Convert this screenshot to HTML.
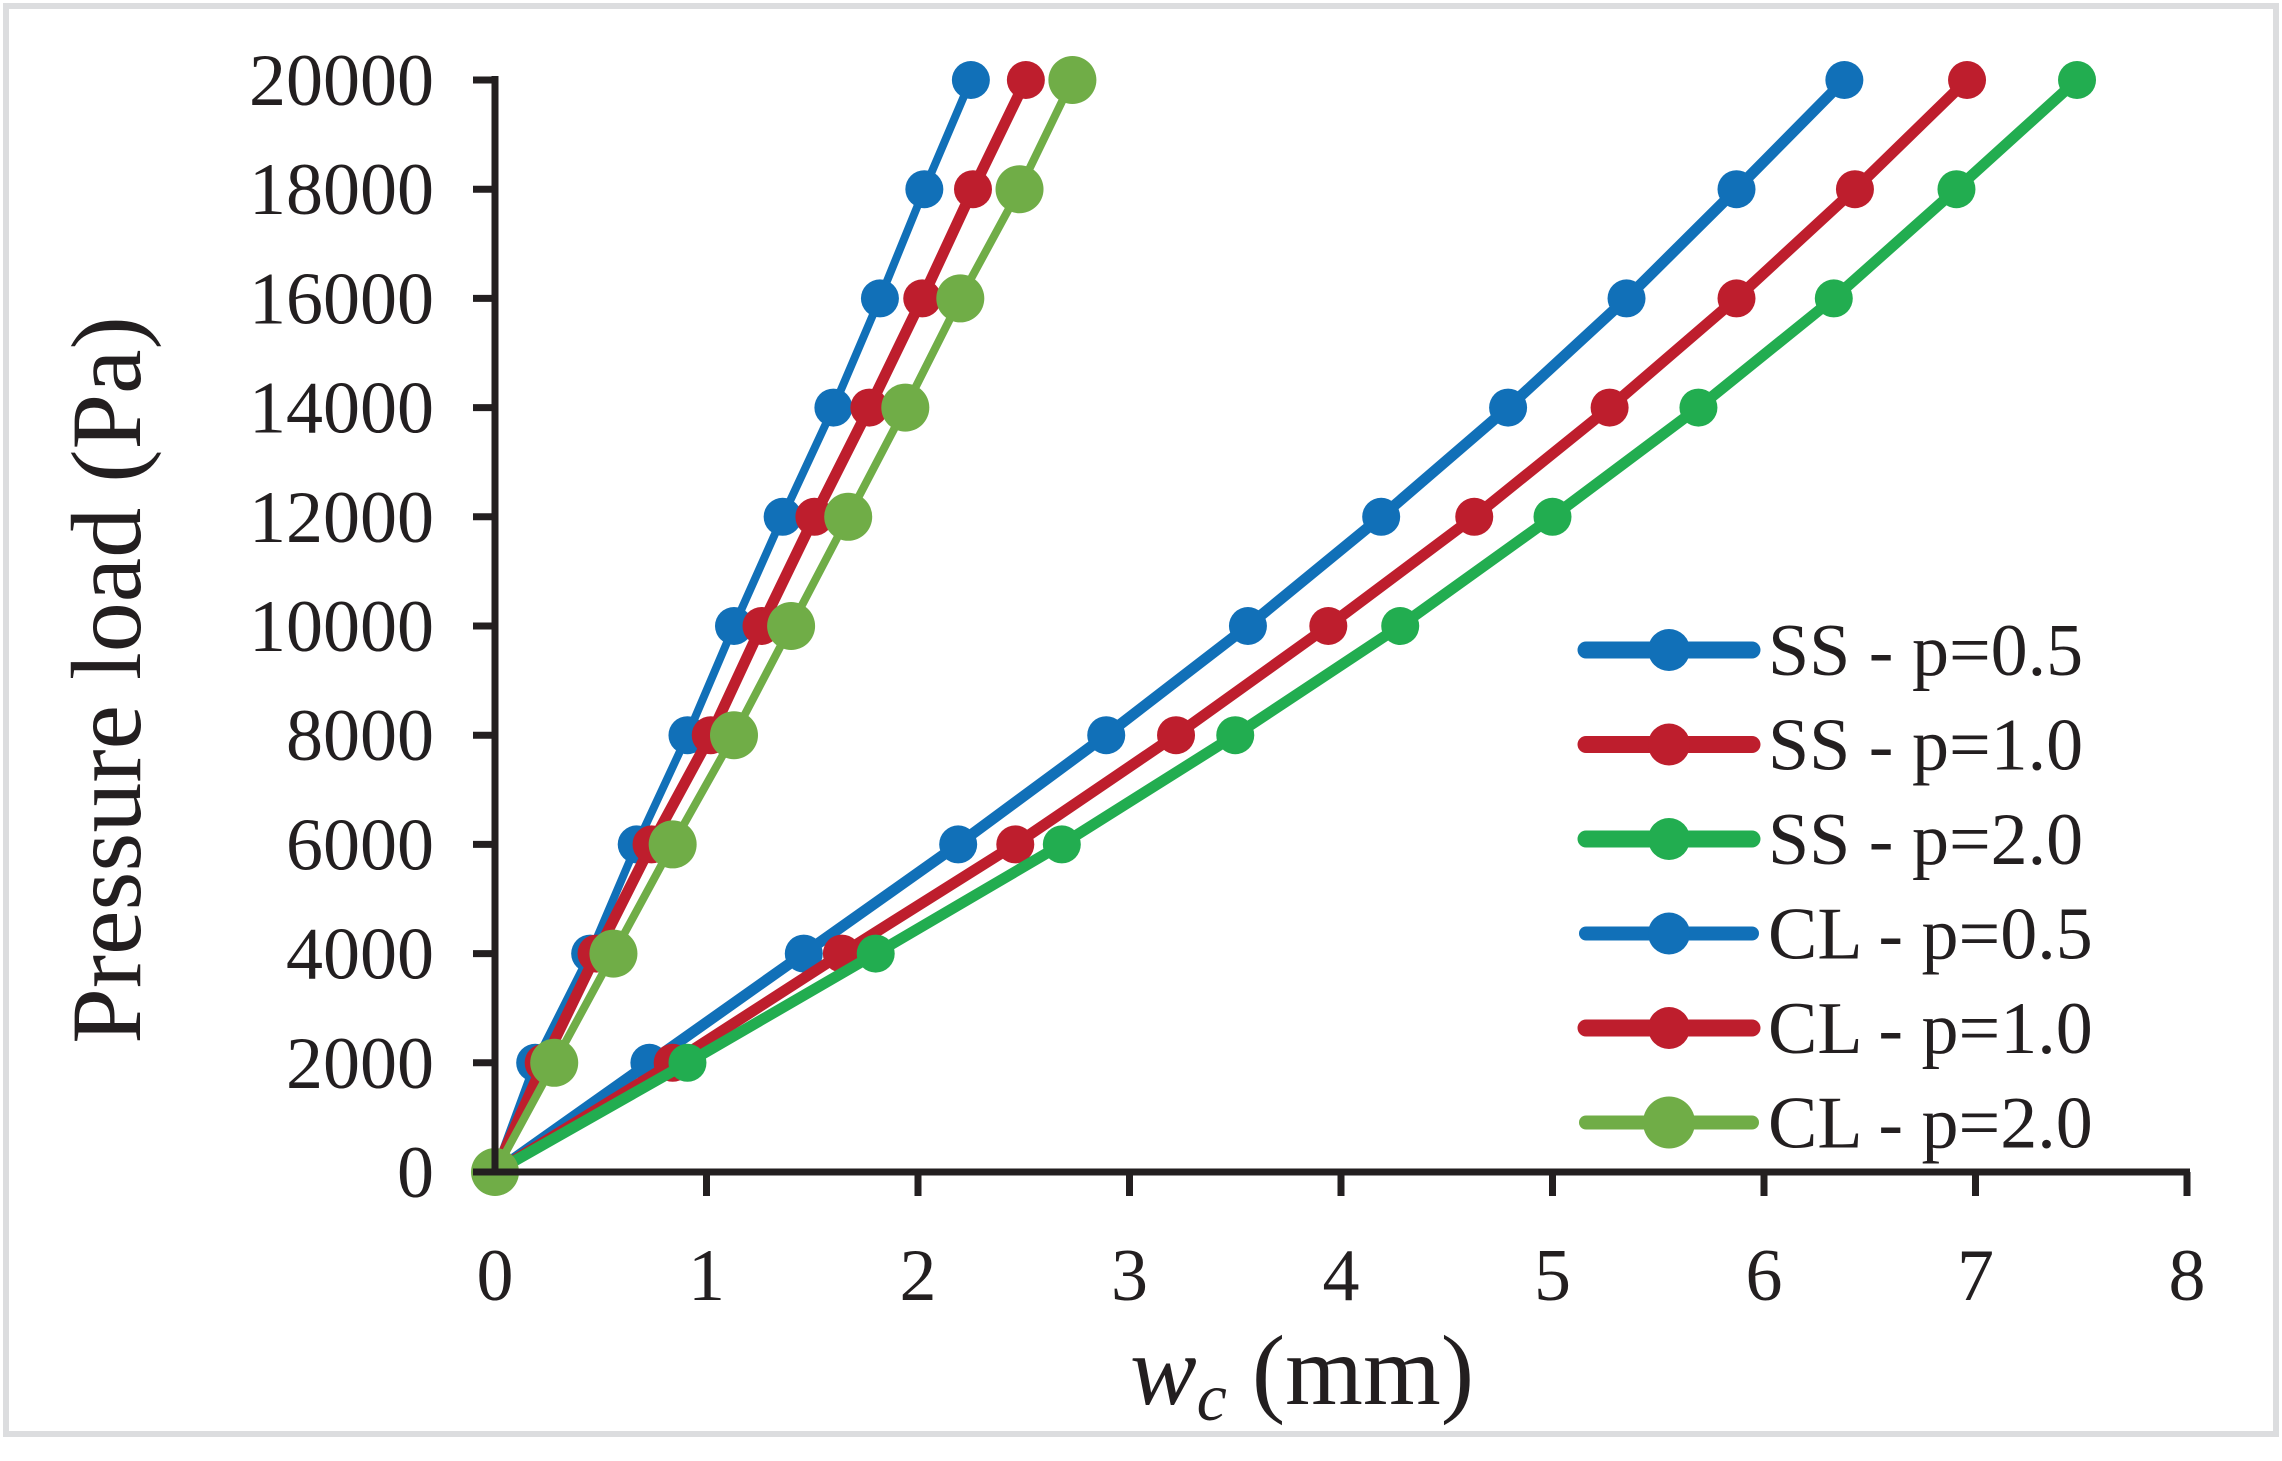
<!DOCTYPE html>
<html><head><meta charset="utf-8"><style>
html,body{margin:0;padding:0;background:#fff;}
svg{display:block;font-family:"Liberation Serif",serif;}
</style></head><body>
<svg id="chart" width="2282" height="1461" viewBox="0 0 2282 1461" xmlns="http://www.w3.org/2000/svg">
<rect x="6" y="6" width="2270" height="1428" fill="#fff" stroke="#dcdddf" stroke-width="6"/>
<g id="plot"></g>
<text transform="translate(140,680) rotate(-90)" text-anchor="middle" font-size="100" fill="#231f20">Pressure load (Pa)</text>
<text x="1302" y="1404" text-anchor="middle" font-size="100" fill="#231f20"><tspan font-style="italic">w</tspan><tspan font-style="italic" font-size="68" dy="16">c</tspan><tspan dy="-16"> (mm)</tspan></text>
</svg>
<script>
const yLevels = [0,2000,4000,6000,8000,10000,12000,14000,16000,18000,20000];
const xTicks = [0,1,2,3,4,5,6,7,8];
const yTicks = [0,2000,4000,6000,8000,10000,12000,14000,16000,18000,20000];
const ss05 = [0,0.73,1.46,2.19,2.89,3.56,4.19,4.79,5.35,5.87,6.38];
const ss10 = [0,0.84,1.64,2.46,3.22,3.94,4.63,5.27,5.87,6.43,6.96];
const ss20 = [0,0.91,1.80,2.68,3.50,4.28,5.00,5.69,6.33,6.91,7.48];
const cl05 = [0,0.19,0.45,0.67,0.91,1.13,1.36,1.60,1.82,2.03,2.25];
const cl10 = [0,0.23,0.48,0.74,1.02,1.26,1.51,1.77,2.02,2.26,2.51];
const cl20 = [0,0.28,0.56,0.84,1.13,1.40,1.67,1.94,2.20,2.48,2.73];
const legendLabels = ["SS - p=0.5","SS - p=1.0","SS - p=2.0","CL - p=0.5","CL - p=1.0","CL - p=2.0"];

const NS="http://www.w3.org/2000/svg";
const X0=495,X1=2187,Y0=1172,Y1=80;
const xs=v=>X0+(v-0)/(8-0)*(X1-X0);
const ys=v=>Y0-(v/20000)*(Y0-Y1);
const plot=document.getElementById('plot');
function mk(tag,attrs,parent){const e=document.createElementNS(NS,tag);for(const k in attrs)e.setAttribute(k,attrs[k]);(parent||plot).appendChild(e);return e;}

const series=[
 {name:'ss-p05',d:ss05,c:'#1170b8',w:11,r:19},
 {name:'ss-p10',d:ss10,c:'#be1e2d',w:11,r:19},
 {name:'ss-p20',d:ss20,c:'#22ad50',w:11,r:19},
 {name:'cl-p05',d:cl05,c:'#1170b8',w:8,r:19},
 {name:'cl-p10',d:cl10,c:'#be1e2d',w:11,r:19},
 {name:'cl-p20',d:cl20,c:'#70ad47',w:8,r:24}
];
series.forEach(s=>{
  const g=mk('g',{});
  
  
  const pts=s.d.map((v,i)=>xs(v)+','+ys(yLevels[i])).join(' ');
  const pl=mk('polyline',{points:pts,fill:'none',stroke:s.c,'stroke-width':s.w,'stroke-linejoin':'round','stroke-linecap':'round'},g);
  
  
  s.d.forEach((v,i)=>{
    const c=mk('circle',{cx:xs(v),cy:ys(yLevels[i]),r:s.r,fill:s.c},g);
    
    
  });
});

const ax=mk('g',{stroke:'#231f20','stroke-width':7});


const yl=mk('line',{x1:X0,y1:Y1-4,x2:X0,y2:Y0+3},ax);


const xl=mk('line',{x1:X0-3,y1:Y0,x2:X1+3,y2:Y0},ax);


yTicks.forEach(t=>{
  const l=mk('line',{x1:X0-22,y1:ys(t),x2:X0,y2:ys(t)},ax);
  
  
  const tx=mk('text',{x:434,y:ys(t)+25,'text-anchor':'end','font-size':74,fill:'#231f20'});
  tx.textContent=t;
  
  
});
xTicks.forEach(t=>{
  if(t>0){const l=mk('line',{x1:xs(t),y1:Y0,x2:xs(t),y2:Y0+24},ax);
  
  }
  const tx=mk('text',{x:xs(t),y:1300,'text-anchor':'middle','font-size':74,fill:'#231f20'});
  tx.textContent=t;
  
  
});

const lg=mk('g',{});


legendLabels.forEach((lab,i)=>{
  const s=series[i];const y=650+i*94.5;
  const e=mk('g',{},lg);
  
  
  mk('line',{x1:1586,y1:y,x2:1752,y2:y,stroke:s.c,'stroke-width':s.w+6,'stroke-linecap':'round'},e);
  mk('circle',{cx:1669,cy:y,r:s.r+2,fill:s.c},e);
  const t=mk('text',{x:1768,y:y+25,'font-size':74,fill:'#231f20'},e);
  t.textContent=lab;
});
</script>
</body></html>
